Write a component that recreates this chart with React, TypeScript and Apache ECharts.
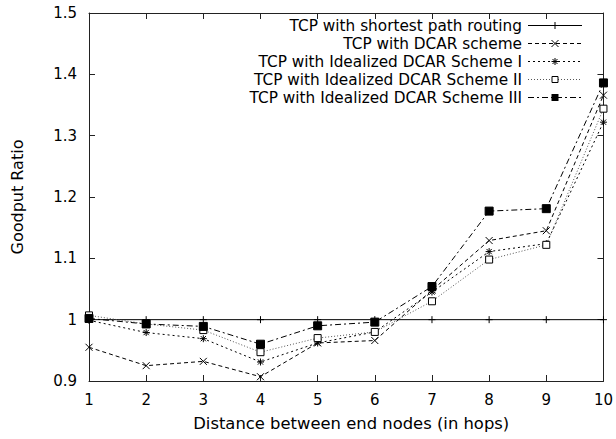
import React, { useEffect, useRef } from 'react';
import * as echarts from 'echarts';

const hops = [1, 2, 3, 4, 5, 6, 7, 8, 9, 10];
const shortestPath = [1, 1, 1, 1, 1, 1, 1, 1, 1, 1];
const dcarScheme = [0.955, 0.925, 0.932, 0.907, 0.962, 0.966, 1.048, 1.129, 1.145, 1.366];
const idealI = [0.999, 0.979, 0.969, 0.931, 0.962, 0.98, 1.045, 1.111, 1.124, 1.322];
const idealII = [1.007, 0.993, 0.983, 0.947, 0.97, 0.98, 1.03, 1.098, 1.122, 1.344];
const idealIII = [1.002, 0.993, 0.989, 0.96, 0.99, 0.996, 1.054, 1.177, 1.181, 1.386];

const seriesNames = [
  'TCP with shortest path routing',
  'TCP with DCAR scheme',
  'TCP with Idealized DCAR Scheme I',
  'TCP with Idealized DCAR Scheme II',
  'TCP with Idealized DCAR Scheme III',
];

const xTitle = 'Distance between end nodes (in hops)';
const yTitle = 'Goodput Ratio';

const FONT = 'DejaVu Sans';

type Marker = 'plus' | 'cross' | 'star' | 'square' | 'filled';
const styles: { marker: Marker; dash: number[] | null; color: string }[] = [
  { marker: 'plus', dash: null, color: '#000' },
  { marker: 'cross', dash: [4, 3], color: '#000' },
  { marker: 'star', dash: [2, 3], color: '#000' },
  { marker: 'square', dash: [1, 2], color: '#555' },
  { marker: 'filled', dash: [6, 3, 2, 3], color: '#000' },
];

const symbolPaths: Record<Marker, string> = {
  plus: 'path://M0,4L8,4M4,0L4,8',
  cross: 'path://M0,0L8,8M8,0L0,8',
  star: 'path://M0,4L8,4M4,0L4,8M1,1L7,7M7,1L1,7',
  square: 'path://M0,0L8,0L8,8L0,8Z',
  filled: 'rect',
};

function markerGraphic(m: Marker, cx: number, cy: number): any[] {
  const h = 3.5;
  const ln = (x1: number, y1: number, x2: number, y2: number) => ({
    type: 'line',
    shape: { x1, y1, x2, y2 },
    style: { stroke: '#000', lineWidth: 1 },
    silent: true,
  });
  const plus = [ln(cx - h, cy, cx + h, cy), ln(cx, cy - h, cx, cy + h)];
  const cross = [ln(cx - h, cy - h, cx + h, cy + h), ln(cx + h, cy - h, cx - h, cy + h)];
  if (m === 'plus') return plus;
  if (m === 'cross') return cross;
  if (m === 'star') return [...plus, ln(cx - 2.5, cy - 2.5, cx + 2.5, cy + 2.5), ln(cx + 2.5, cy - 2.5, cx - 2.5, cy + 2.5)];
  if (m === 'square')
    return [{ type: 'rect', shape: { x: cx - 3, y: cy - 3, width: 6, height: 6 }, style: { fill: '#fff', stroke: '#000', lineWidth: 1 }, silent: true }];
  return [{ type: 'rect', shape: { x: cx - 3.5, y: cy - 3.5, width: 7, height: 7 }, style: { fill: '#000' }, silent: true }];
}

export default function App() {
  const ref = useRef<HTMLDivElement>(null);
  useEffect(() => {
    const chart = echarts.init(ref.current!, null, { renderer: 'svg' });
    const pair = (vals: number[]) => hops.map((h, i) => [h, vals[i]]);
    const axisColor = '#222';
    const mk = (i: number, vals: number[], size: number, z: number) => ({
      type: 'line',
      name: seriesNames[i],
      data: pair(vals),
      symbol: symbolPaths[styles[i].marker],
      symbolSize: size,
      showAllSymbol: true,
      z,
      lineStyle: { color: styles[i].color, width: 1, type: styles[i].dash ?? 'solid' },
      itemStyle: { color: styles[i].marker === 'square' ? '#fff' : '#000', borderColor: '#000', borderWidth: 1 },
      emphasis: { disabled: true },
    });
    const xBase = {
      type: 'value',
      min: 1,
      max: 10,
      interval: 1,
      splitLine: { show: false },
      axisLine: { show: true, lineStyle: { color: axisColor, width: 1 } },
      axisTick: { show: true, inside: true, length: 6, lineStyle: { color: axisColor } },
    };
    const yBase = {
      type: 'value',
      min: 0.9,
      max: 1.5,
      interval: 0.1,
      splitLine: { show: false },
      axisLine: { show: true, lineStyle: { color: axisColor, width: 1 } },
      axisTick: { show: true, inside: true, length: 6, lineStyle: { color: axisColor } },
    };

    const legendChildren: any[] = [];
    seriesNames.forEach((name, i) => {
      const cy = 25.5 + 18 * i;
      legendChildren.push({
        type: 'text',
        x: 522,
        y: cy,
        silent: true,
        style: {
          text: name,
          fill: '#000',
          font: `15.3px "${FONT}"`,
          align: 'right',
          verticalAlign: 'middle',
        },
      });
      legendChildren.push({
        type: 'line',
        silent: true,
        shape: { x1: 528, y1: cy, x2: 582, y2: cy },
        style: { stroke: styles[i].color, lineWidth: 1, lineDash: styles[i].dash ?? undefined },
      });
      legendChildren.push(...markerGraphic(styles[i].marker, 555, cy));
    });

    chart.setOption({
      animation: false,
      backgroundColor: '#fff',
      grid: { left: 89, right: 6, top: 13, bottom: 58, containLabel: false },
      xAxis: [
        {
          ...xBase,
          position: 'bottom',
          axisLabel: { show: true, color: '#000', fontFamily: FONT, fontSize: 15, margin: 11 },
          name: xTitle,
          nameLocation: 'middle',
          nameGap: 34,
          nameTextStyle: { color: '#000', fontFamily: FONT, fontSize: 16.4, padding: [0, 0, 0, 10] },
        },
        { ...xBase, position: 'top', axisLabel: { show: false } },
      ],
      yAxis: [
        {
          ...yBase,
          position: 'left',
          axisLabel: {
            show: true,
            color: '#000',
            fontFamily: FONT,
            fontSize: 15,
            margin: 12,
            formatter: (v: number) => String(Math.round(v * 10) / 10),
          },
          name: yTitle,
          nameLocation: 'middle',
          nameGap: 64,
          nameRotate: 90,
          nameTextStyle: { color: '#000', fontFamily: FONT, fontSize: 16 },
        },
        { ...yBase, position: 'right', axisLabel: { show: false } },
      ],
      graphic: [{ type: 'group', children: legendChildren }],
      series: [
        mk(0, shortestPath, 7, 2),
        mk(1, dcarScheme, 7, 3),
        mk(2, idealI, 7, 4),
        mk(3, idealII, 7, 5),
        mk(4, idealIII, 8, 6),
      ],
    } as any);
    return () => chart.dispose();
  }, []);
  return <div ref={ref} style={{ position: 'fixed', left: 0, top: 0, width: 616, height: 439 }} />;
}
